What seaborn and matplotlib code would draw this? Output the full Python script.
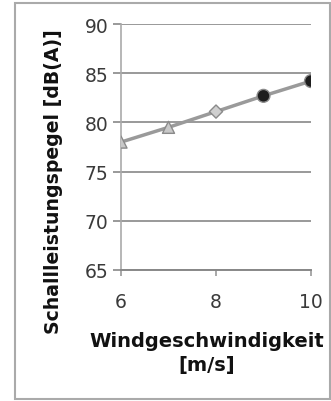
import matplotlib
matplotlib.use("Agg")
import matplotlib.pyplot as plt
import seaborn as sns
import pandas as pd
from matplotlib.patches import Rectangle

# data
wind_speed = [6, 7, 8, 9, 10]
sound_level = [78.0, 79.5, 81.1, 82.7, 84.2]
point_group = ["A", "A", "B", "C", "C"]
x_ticks = [6, 8, 10]
y_ticks = [65, 70, 75, 80, 85, 90]
x_label = "Windgeschwindigkeit\n[m/s]"
y_label = "Schallleistungspegel [dB(A)]"

df = pd.DataFrame({"v": wind_speed, "L": sound_level, "g": point_group})

sns.set_style("white")
plt.rcParams["font.family"] = ["DejaVu Sans"]

fig = plt.figure(figsize=(3.31, 4.02), dpi=100)
ax = fig.add_axes([121/331, 1-271/402, (311-121)/331, (271-25)/402])

sns.lineplot(data=df, x="v", y="L", ax=ax, color="#9a9a9a", lw=2.5, zorder=3)
sns.scatterplot(data=df, x="v", y="L", hue="g", style="g", ax=ax,
                markers={"A": "^", "B": "D", "C": "o"},
                palette={"A": "#c8c8c8", "B": "#cfcfcf", "C": "#1e1e1e"},
                size="g", sizes={"A": 75, "B": 45, "C": 85},
                edgecolor="#8a8a8a", linewidth=1.0, legend=False, zorder=4)

ax.set_xlim(6, 10)
ax.set_ylim(65, 90)
ax.set_xticks(x_ticks)
ax.set_yticks(y_ticks)
ax.yaxis.grid(True, color="#999999", lw=1.4)
ax.set_axisbelow(True)
for s in ["top", "right"]:
    ax.spines[s].set_visible(False)
ax.spines["left"].set_color("#aaaaaa")
ax.spines["left"].set_linewidth(1.2)
ax.spines["bottom"].set_color("#888888")
ax.spines["bottom"].set_linewidth(1.4)
ax.tick_params(axis="y", length=6, width=1.4, color="#999999", labelsize=13.5,
               labelcolor="#3a3a3a", pad=3, left=True)
ax.tick_params(axis="x", length=4, width=1.2, color="#999999", labelsize=13.5,
               labelcolor="#3a3a3a", pad=12, bottom=True)
ax.set_xlabel(x_label, fontsize=14, fontweight="bold", color="#111111",
              linespacing=1.35)
ax.xaxis.set_label_coords((207-121)/190, -(332-271)/246)
ax.xaxis.label.set_va("top")
ax.set_ylabel(y_label, fontsize=13.6, fontweight="bold", color="#111111")
ax.yaxis.set_label_coords((63-121)/190, (271-182)/246)

fig.patches.append(Rectangle((15/331, 2/402), 1-15/331-0.002, 1-6/402,
                             transform=fig.transFigure, fill=False,
                             edgecolor="#aaaaaa", lw=1.5))

fig.savefig("out.png", dpi=100)
